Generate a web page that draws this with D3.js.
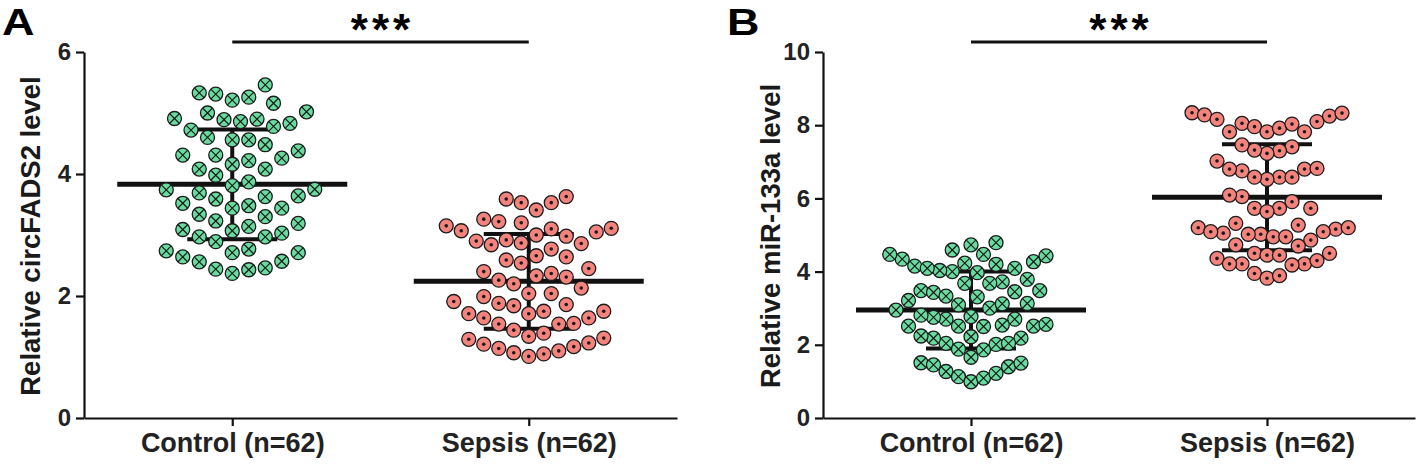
<!DOCTYPE html>
<html><head><meta charset="utf-8">
<script src="https://cdn.jsdelivr.net/npm/d3@7"></script>
<style>
body{margin:0;background:#fff}
svg{display:block}
text{font-family:"Liberation Sans",Arial,sans-serif;font-weight:bold}
</style>
</head><body>
<svg id="chart" width="1418" height="466"></svg>
<script>
// ---------- data ----------
const categories = ["Control (n=62)", "Sepsis (n=62)"];

const circControl = [
  5.46, 5.33, 5.21, 5.26, 5.31, 5.16,
  5.02, 5.00, 4.91, 4.90, 4.89, 4.83, 4.86, 4.78, 4.72,
  4.60, 4.56, 4.56,
  4.48, 4.38, 4.31, 4.31, 4.22, 4.26, 4.16, 4.08, 4.08, 3.98,
  3.87, 3.81,
  3.75, 3.69, 3.74, 3.64, 3.63, 3.59, 3.52, 3.48, 3.44, 3.44,
  3.34, 3.30, 3.23, 3.19, 3.14, 3.07, 3.09,
  3.03, 2.97, 2.97, 2.89,
  2.77, 2.71, 2.71, 2.74, 2.64, 2.57, 2.56,
  2.44, 2.37, 2.43, 2.46
];
const circSepsis = [
  3.63, 3.53, 3.53, 3.59, 3.41,
  3.22, 3.15, 3.10, 3.11, 3.20, 3.26,
  3.07, 3.00, 2.92, 2.87, 2.84, 2.77, 2.86, 2.90, 2.98, 3.05,
  2.64, 2.54, 2.40, 2.45, 2.59, 2.66,
  2.37, 2.31, 2.20, 2.04, 2.04, 2.13, 2.26, 2.33,
  1.99, 1.88, 1.84, 1.75, 1.71, 1.71, 1.75, 1.86, 1.91,
  1.64, 1.55, 1.54, 1.39, 1.34, 1.44, 1.54, 1.64,
  1.29, 1.21, 1.14, 1.07, 1.01, 1.05, 1.10, 1.17, 1.23, 1.31
];
const mirControl = [
  4.79, 4.59, 4.73,
  4.47, 4.34, 4.23, 4.15, 4.09, 4.00, 3.97, 4.03, 4.09, 4.20, 4.27, 4.43, 4.47,
  3.72, 3.68, 3.48, 3.43, 3.31, 3.33, 3.45, 3.48, 3.68, 3.79,
  3.13, 3.09, 2.95, 2.77, 2.70, 2.75, 2.70, 2.81, 3.00, 3.12, 3.21,
  2.54, 2.51, 2.50, 2.51, 2.51, 2.56,
  2.04, 2.01, 2.22, 2.18, 2.18, 2.24, 2.04, 1.88, 1.86, 1.66,
  1.51, 1.45, 1.27, 1.13, 0.99, 1.09, 1.22, 1.40, 1.50
];
const mirSepsis = [
  8.34, 8.28, 8.16, 8.05, 7.96, 7.82, 7.82, 7.82, 7.92, 8.03, 8.10, 8.25, 8.33,
  7.41, 7.30, 7.23, 7.32, 7.46,
  7.02, 6.80, 6.75, 6.58, 6.52, 6.58, 6.58, 6.80, 6.82,
  6.05, 5.91, 6.09,
  5.73, 5.73, 5.64, 5.73,
  5.32, 5.20, 5.16, 5.09, 5.02, 4.95, 5.02, 5.05, 5.09, 5.20, 5.27,
  4.86, 4.70, 4.73, 4.95,
  4.50, 4.45, 4.36, 4.45, 4.50,
  4.21, 4.21, 4.18, 4.21, 4.30,
  3.95, 3.82, 3.89
];

// mean and SD as drawn
const circMean = [3.83, 2.24];
const circSD   = [0.90, 0.775];
const mirMean  = [2.95, 6.03];
const mirSD    = [1.05, 1.45];

const circTicks = [0, 2, 4, 6];
const mirTicks  = [0, 2, 4, 6, 8, 10];

const panelLabels = ["A", "B"];
const yTitles = ["Relative circFADS2 level", "Relative miR-133a level"];
const sigText = "***";

// ---------- styling / layout ----------
const GREEN = "#68dc9f", RED = "#f3837c", INK = "#111";
const FONT = '"Liberation Sans",Arial,sans-serif';
const svg = d3.select("#chart");
const yTop = 52, yBot = 418;

const panels = [
  {label: panelLabels[0], title: yTitles[0], series: [circControl, circSepsis],
   mean: circMean, sd: circSD, ticks: circTicks, x0: 84, x1: 677, labelX: 2, titleX: 40},
  {label: panelLabels[1], title: yTitles[1], series: [mirControl, mirSepsis],
   mean: mirMean, sd: mirSD, ticks: mirTicks, x0: 823, x1: 1415, labelX: 727, titleX: 780}
];

// column-scatter layout: sorted ascending, each point placed at the nearest free slot
function swarm(values, y, Dx, Dy, step) {
  const order = values.map((v, i) => i).sort((a, b) => values[a] - values[b]);
  const placed = [];
  const out = new Array(values.length);
  for (const i of order) {
    const py = y(values[i]);
    let off = 0;
    for (let k = 0; k < 400; k++) {
      const cand = k === 0 ? 0 : (k % 2 === 1 ? 1 : -1) * Math.ceil(k / 2) * step;
      if (placed.every(p => ((p.x - cand) / Dx) ** 2 + ((p.y - py) / Dy) ** 2 >= 1 - 1e-6)) { off = cand; break; }
    }
    placed.push({x: off, y: py});
    out[i] = off;
  }
  return out;
}
function layout(values, y, maxHalf) {
  let offs;
  for (let Dx = 20; Dx >= 8; Dx -= 0.5) {
    offs = swarm(values, y, Dx, 20, Dx / 2);
    if (d3.max(offs, Math.abs) <= maxHalf) break;
  }
  return offs;
}

panels.forEach(P => {
  const g = svg.append("g");
  const x = d3.scalePoint().domain(categories).range([P.x0, P.x1]).padding(0.5);
  const y = d3.scaleLinear().domain([0, d3.max(P.ticks)]).range([yBot, yTop]);

  // axes
  const ay = g.append("g").attr("transform", `translate(${P.x0},0)`)
    .call(d3.axisLeft(y).tickValues(P.ticks).tickFormat(d3.format("d"))
      .tickSize(8).tickSizeOuter(0).tickPadding(5));
  const ax = g.append("g").attr("transform", `translate(0,${yBot})`)
    .call(d3.axisBottom(x).tickSize(8).tickSizeOuter(0).tickPadding(7));
  [ay, ax].forEach(a => {
    a.select(".domain").attr("stroke", INK).attr("stroke-width", 2.2);
    a.selectAll(".tick line").attr("stroke", INK).attr("stroke-width", 2.2);
  });
  ay.selectAll(".tick text").attr("font-size", 24).attr("fill", "#222")
    .attr("font-family", FONT).attr("font-weight", "bold");
  ax.selectAll(".tick text").attr("font-size", 27).attr("fill", "#222")
    .attr("font-family", FONT).attr("font-weight", "bold");

  // y title
  g.append("text").attr("transform", `translate(${P.titleX},${(yTop + yBot) / 2 + 1}) rotate(-90)`)
    .attr("text-anchor", "middle").attr("font-size", 27.5).attr("fill", "#1a1a1a").text(P.title);

  // panel label
  g.append("text").attr("transform", `translate(${P.labelX},35) scale(1.25,1)`)
    .attr("font-size", 36).attr("fill", "#000").text(P.label);

  // significance bar
  const sx0 = x(categories[0]), sx1 = x(categories[1]);
  g.append("line").attr("x1", sx0).attr("x2", sx1).attr("y1", 42).attr("y2", 42)
    .attr("stroke", INK).attr("stroke-width", 3);
  g.append("text").attr("x", (sx0 + sx1) / 2 + 2).attr("y", 45).attr("text-anchor", "middle")
    .attr("font-size", 44).attr("letter-spacing", 4).attr("fill", "#000").text(sigText);

  // mean +/- SD
  categories.forEach((c, j) => {
    const cx = x(c), m = P.mean[j], s = P.sd[j];
    const eg = g.append("g").attr("stroke", INK).attr("stroke-linecap", "butt");
    eg.append("line").attr("x1", cx).attr("x2", cx).attr("y1", y(m + s)).attr("y2", y(m - s)).attr("stroke-width", 4);
    eg.append("line").attr("x1", cx - 45).attr("x2", cx + 45).attr("y1", y(m + s)).attr("y2", y(m + s)).attr("stroke-width", 4);
    eg.append("line").attr("x1", cx - 45).attr("x2", cx + 45).attr("y1", y(m - s)).attr("y2", y(m - s)).attr("stroke-width", 4);
    eg.append("line").attr("x1", cx - 115).attr("x2", cx + 115).attr("y1", y(m)).attr("y2", y(m)).attr("stroke-width", 5);
  });

  // points
  const r = 7;
  P.series.forEach((vals, j) => {
    const cx = x(categories[j]);
    const offs = layout(vals, y, 84);
    const pts = g.append("g").selectAll("g").data(vals).join("g")
      .attr("transform", (d, i) => `translate(${cx + offs[i]},${y(d)})`);
    pts.append("circle").attr("r", r).attr("fill", j === 0 ? GREEN : RED)
      .attr("stroke", "#1b1b1b").attr("stroke-width", 1.3);
    if (j === 0) {
      const k = r * 0.68;
      pts.append("path").attr("d", `M${-k},${-k}L${k},${k}M${-k},${k}L${k},${-k}`)
        .attr("stroke", "#1b1b1b").attr("stroke-width", 1.2).attr("fill", "none");
    } else {
      pts.append("circle").attr("r", 1.8).attr("fill", "#1b1b1b");
    }
  });
});
</script>
</body></html>
